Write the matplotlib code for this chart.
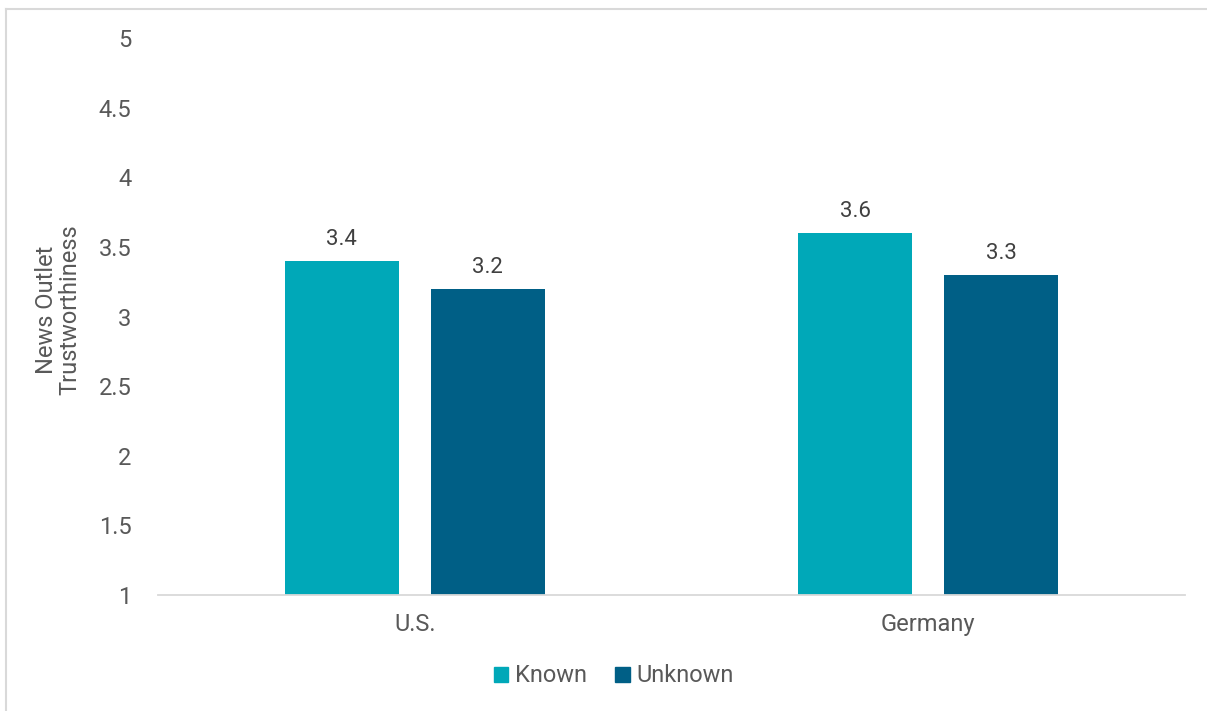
import matplotlib
matplotlib.use("Agg")
import matplotlib.pyplot as plt
import numpy as np
from matplotlib.lines import Line2D

categories = ["U.S.", "Germany"]
series_names = ["Known", "Unknown"]
known = [3.4, 3.6]
unknown = [3.2, 3.3]
colors = ["#00A8B8", "#005F86"]
yticks = [1, 1.5, 2, 2.5, 3, 3.5, 4, 4.5, 5]

plt.rcParams['font.family'] = ['Roboto', 'DejaVu Sans']
txt = "#595959"

fig = plt.figure(figsize=(12.07, 7.11), dpi=100)
ax = fig.add_axes([158/1207, 1-595/711, (1185-158)/1207, (595-38)/711])

x = np.arange(len(categories))
w = 0.222
off = 0.142
for vals, name, c, o in [(known, series_names[0], colors[0], -off), (unknown, series_names[1], colors[1], off)]:
    bars = ax.bar(x + o, np.array(vals) - 1, width=w, bottom=1, color=c, label=name)
    for b, v in zip(bars, vals):
        ax.text(b.get_x() + b.get_width()/2, v + 0.08, f"{v:.1f}", ha="center", va="bottom",
                fontsize=16, color="#404040")

ax.set_xlim(-0.5, 1.5)
ax.set_ylim(1, 5)
ax.set_yticks(yticks)
ax.set_yticklabels([f"{t:g}" for t in yticks])
ax.set_xticks(x)
ax.set_xticklabels(categories)
ax.tick_params(axis='y', length=0, labelsize=17, labelcolor=txt, pad=19)
ax.tick_params(axis='x', length=0, labelsize=17, labelcolor=txt, pad=13)
for s in ["top", "right", "left"]:
    ax.spines[s].set_visible(False)
ax.spines["bottom"].set_color("#D9D9D9")
ax.spines["bottom"].set_linewidth(1.3)

fig.text(58/1207, 1-310/711, "News Outlet\nTrustworthiness", rotation=90, ha="center", va="center",
         fontsize=17, color=txt, linespacing=1.0)

handles = [plt.Rectangle((0, 0), 1, 1, color=c) for c in colors]
fig.legend(handles, series_names, loc="center", bbox_to_anchor=(614/1207, 1-676/711), ncol=2,
           frameon=False, fontsize=17, labelcolor=txt, handlelength=0.6, handleheight=0.6,
           handletextpad=0.3, columnspacing=1.2)

# outer border lines
fig.add_artist(Line2D([6/1207, 6/1207], [0, 1-9/711], transform=fig.transFigure, color="#D9D9D9", lw=1.5))
fig.add_artist(Line2D([6/1207, 1], [1-9/711, 1-9/711], transform=fig.transFigure, color="#D9D9D9", lw=1.5))

fig.savefig("out.png", dpi=100)
